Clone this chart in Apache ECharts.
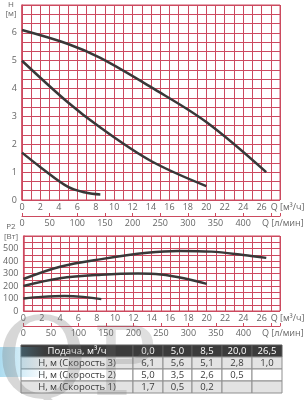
<!DOCTYPE html>
<html>
<head>
<meta charset="utf-8">
<script src="https://cdn.jsdelivr.net/npm/echarts@6/dist/echarts.min.js"></script>
<style>
  html, body { margin: 0; padding: 0; background: #fff; }
  #pump-chart { width: 305px; height: 400px; }
</style>
</head>
<body>
<div id="pump-chart"></div>
<script>
const GRID_COLOR = '#cc4a5f';
const CURVE_COLOR = '#383838';
const LABEL_COLOR = '#666';
const FONT = 'Open Sans';

// H-Q curves, [Q m3/h, H m]
const head3 = [[0, 6.1], [5, 5.6], [8.5, 5.1], [14, 4.05], [20, 2.8], [26.5, 1.0]];
const head2 = [[0, 5.0], [5, 3.5], [8.5, 2.6], [14, 1.4], [20, 0.5]];
const head1 = [[0, 1.7], [2, 1.18], [5, 0.47], [7, 0.26], [8.5, 0.2]];

// P2-Q curves, [Q m3/h, P2 W]
const power3 = [[0, 256], [4, 354], [8.5, 415], [13.5, 466], [17, 481], [20.5, 475], [24, 448], [26.5, 425]];
const power2 = [[0, 200], [4, 262], [8.5, 290], [12.5, 300], [15, 292], [17.5, 262], [20, 217]];
const power1 = [[0, 100], [2, 113], [4.5, 120], [6.5, 113], [8.5, 95]];

// table under the charts
const tableFlow = [0, 5, 8.5, 20, 26.5];
const tableHead3 = [6.1, 5.6, 5.1, 2.8, 1.0];
const tableHead2 = [5.0, 3.5, 2.6, 0.5, null];
const tableHead1 = [1.7, 0.5, 0.2, null, null];
const tableRowNames = ['Подача, м³/ч', 'Н, м (Скорость 3)', 'Н, м (Скорость 2)', 'Н, м (Скорость 1)'];

const Q_MAX = 28;
const LPM_MAX = Q_MAX * 1000 / 60;

const labelStyle = {color: LABEL_COLOR, fontSize: 9, fontFamily: FONT};
const gridLine = {show: true, lineStyle: {color: GRID_COLOR, width: 1}};

function flowAxis(gridIndex) {
  return {
    type: 'value',
    gridIndex,
    min: 0,
    max: Q_MAX,
    interval: 2,
    name: 'Q [м³/ч]',
    nameLocation: 'end',
    nameGap: -14,
    nameTextStyle: {...labelStyle, align: 'left', verticalAlign: 'top', padding: [3, 0, 0, 0]},
    axisLine: {show: false},
    axisTick: {show: false},
    axisLabel: {...labelStyle, margin: 3, formatter: (v) => v >= Q_MAX ? '' : v},
    splitLine: gridLine,
    minorTick: {show: false, splitNumber: 2},
    minorSplitLine: gridLine,
  };
}

function lpmAxis(gridIndex, offset) {
  return {
    type: 'value',
    gridIndex,
    position: 'bottom',
    offset,
    min: 0,
    max: LPM_MAX,
    interval: 50,
    name: 'Q [л/мин]',
    nameLocation: 'end',
    nameGap: -18,
    nameTextStyle: {...labelStyle, align: 'left', verticalAlign: 'top', padding: [3, 0, 0, 0]},
    axisLine: {show: true, lineStyle: {color: GRID_COLOR}},
    axisTick: {show: true, inside: true, length: 3, lineStyle: {color: GRID_COLOR}},
    axisLabel: {...labelStyle, margin: 3, formatter: (v) => v > 400 ? '' : v},
    splitLine: {show: false},
  };
}

function valueAxis(gridIndex, max, interval, minorSplit) {
  return {
    type: 'value',
    gridIndex,
    min: 0,
    max,
    interval,
    axisLine: {show: true, lineStyle: {color: GRID_COLOR, width: 1.5}},
    axisTick: {show: false},
    axisLabel: {...labelStyle, margin: 5, formatter: (v) => v >= max ? '' : v},
    splitLine: gridLine,
    minorTick: {show: false, splitNumber: minorSplit},
    minorSplitLine: gridLine,
  };
}

function curve(data, xAxisIndex, yAxisIndex) {
  return {
    type: 'line',
    xAxisIndex,
    yAxisIndex,
    data,
    smooth: 0.35,
    showSymbol: false,
    silent: true,
    lineStyle: {color: CURVE_COLOR, width: 2.5},
    z: 5,
  };
}

const fmt = (v) => v === null ? '' : v.toFixed(1).replace('.', ',');

function buildTable() {
  const colX = [21, 133, 163, 192, 222, 252, 282];
  const rowY = [345, 357, 369, 381, 393];
  const rows = [tableFlow, tableHead3, tableHead2, tableHead1];
  const fills = ['#3b3b3b', '#e3e3e3', '#ffffff', '#e3e3e3'];
  const items = [];
  rows.forEach((values, r) => {
    const cells = [tableRowNames[r], ...values.map(fmt)];
    cells.forEach((text, c) => {
      const x = colX[c];
      const w = colX[c + 1] - x;
      const y = rowY[r];
      const h = rowY[r + 1] - y;
      items.push({
        type: 'rect',
        shape: {x, y, width: w, height: h},
        style: {fill: fills[r], stroke: r === 0 ? '#5a5a5a' : '#8f8f8f', lineWidth: 1},
        z: 10,
      });
      items.push({
        type: 'text',
        x: x + w / 2,
        y: y + h / 2 + 0.5,
        style: {
          text,
          fill: r === 0 ? '#ffffff' : '#3a3a3a',
          fontSize: 9.5,
          fontFamily: FONT,
          align: 'center',
          verticalAlign: 'middle',
        },
        z: 11,
      });
    });
  });
  return items;
}

const axisTitles = [
  {type: 'text', x: 11, y: 5, style: {text: 'H', fill: LABEL_COLOR, fontSize: 8, fontFamily: FONT, align: 'center', verticalAlign: 'middle'}},
  {type: 'text', x: 11, y: 14, style: {text: '[м]', fill: LABEL_COLOR, fontSize: 8, fontFamily: FONT, align: 'center', verticalAlign: 'middle'}},
  {type: 'text', x: 11, y: 227, style: {text: 'P2', fill: LABEL_COLOR, fontSize: 8, fontFamily: FONT, align: 'center', verticalAlign: 'middle'}},
  {type: 'text', x: 11, y: 237, style: {text: '[Вт]', fill: LABEL_COLOR, fontSize: 8, fontFamily: FONT, align: 'center', verticalAlign: 'middle'}},
];

// site watermark
const watermark = [
  {
    type: 'rect',
    shape: {x: 0, y: 347, width: 45, height: 30},
    style: {
      fill: new echarts.graphic.LinearGradient(0, 0, 1, 0, [
        {offset: 0, color: 'rgba(90,185,225,0.5)'},
        {offset: 1, color: 'rgba(90,185,225,0)'},
      ]),
    },
    z: 20,
  },
  {
    type: 'text',
    x: -4,
    y: 312,
    style: {text: 'Q', fill: 'rgba(110,110,110,0.28)', fontSize: 112, fontFamily: 'DejaVu Serif'},
    z: 21,
  },
  {
    type: 'text',
    x: 92,
    y: 322,
    style: {text: 'P', fill: 'rgba(110,110,110,0.22)', fontSize: 96, fontFamily: 'DejaVu Serif'},
    z: 21,
  },
];

const chart = echarts.init(document.getElementById('pump-chart'), null, {renderer: 'canvas'});

chart.setOption({
  animation: false,
  backgroundColor: '#fff',
  grid: [
    {left: 22, right: 20, top: 5, height: 195, show: true, borderColor: GRID_COLOR, borderWidth: 1},
    {left: 22, right: 20, top: 236, height: 75, show: true, borderColor: GRID_COLOR, borderWidth: 1},
  ],
  xAxis: [flowAxis(0), lpmAxis(0, 16), flowAxis(1), lpmAxis(1, 15)],
  yAxis: [valueAxis(0, 7, 1, 3), valueAxis(1, 600, 100, 2)],
  series: [
    curve(head3, 0, 0),
    curve(head2, 0, 0),
    curve(head1, 0, 0),
    curve(power3, 2, 1),
    curve(power2, 2, 1),
    curve(power1, 2, 1),
  ],
  graphic: [...axisTitles, ...buildTable(), ...watermark],
});
</script>
</body>
</html>
